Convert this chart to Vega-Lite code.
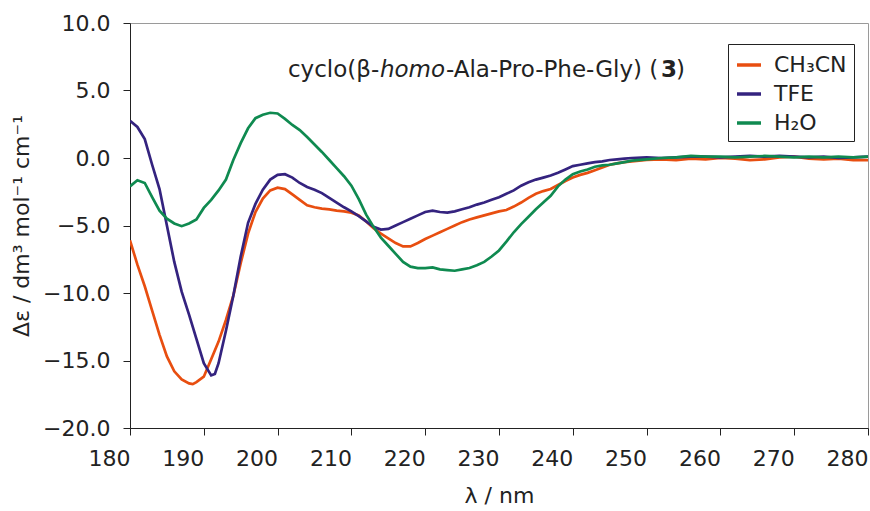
{
  "$schema": "https://vega.github.io/schema/vega-lite/v6.json",
  "width": 738,
  "height": 405,
  "autosize": {"type": "none"},
  "padding": {"left": 130, "top": 23, "right": 2, "bottom": 83},
  "background": "white",
  "config": {
    "view": {"stroke": "#9a9a9a", "strokeWidth": 1},
    "font": "DejaVu Sans",
    "axis": {"domainColor": "#222", "tickColor": "#222", "labelColor": "#222", "titleColor": "#222", "labelFont": "DejaVu Sans", "titleFont": "DejaVu Sans", "titleFontWeight": "normal", "grid": false}
  },
  "datasets": {
    "cd": [
      {"nm":180,"de":-6.1,"s":"CH₃CN"},{"nm":181,"de":-7.9,"s":"CH₃CN"},{"nm":182,"de":-9.5,"s":"CH₃CN"},{"nm":183,"de":-11.3,"s":"CH₃CN"},{"nm":184,"de":-13.1,"s":"CH₃CN"},{"nm":185,"de":-14.7,"s":"CH₃CN"},{"nm":186,"de":-15.8,"s":"CH₃CN"},{"nm":187,"de":-16.4,"s":"CH₃CN"},{"nm":188,"de":-16.7,"s":"CH₃CN"},{"nm":188.5,"de":-16.75,"s":"CH₃CN"},{"nm":189,"de":-16.6,"s":"CH₃CN"},{"nm":190,"de":-16.2,"s":"CH₃CN"},{"nm":191,"de":-14.9,"s":"CH₃CN"},{"nm":192,"de":-13.6,"s":"CH₃CN"},{"nm":193,"de":-12.0,"s":"CH₃CN"},{"nm":194,"de":-10.2,"s":"CH₃CN"},{"nm":195,"de":-7.8,"s":"CH₃CN"},{"nm":196,"de":-5.6,"s":"CH₃CN"},{"nm":197,"de":-4.0,"s":"CH₃CN"},{"nm":198,"de":-3.0,"s":"CH₃CN"},{"nm":199,"de":-2.4,"s":"CH₃CN"},{"nm":200,"de":-2.2,"s":"CH₃CN"},{"nm":201,"de":-2.3,"s":"CH₃CN"},{"nm":202,"de":-2.7,"s":"CH₃CN"},{"nm":203,"de":-3.1,"s":"CH₃CN"},{"nm":204,"de":-3.5,"s":"CH₃CN"},{"nm":205,"de":-3.65,"s":"CH₃CN"},{"nm":206,"de":-3.75,"s":"CH₃CN"},{"nm":207,"de":-3.8,"s":"CH₃CN"},{"nm":208,"de":-3.9,"s":"CH₃CN"},{"nm":209,"de":-3.95,"s":"CH₃CN"},{"nm":210,"de":-4.05,"s":"CH₃CN"},{"nm":211,"de":-4.25,"s":"CH₃CN"},{"nm":212,"de":-4.7,"s":"CH₃CN"},{"nm":213,"de":-5.2,"s":"CH₃CN"},{"nm":214,"de":-5.6,"s":"CH₃CN"},{"nm":215,"de":-5.95,"s":"CH₃CN"},{"nm":216,"de":-6.3,"s":"CH₃CN"},{"nm":217,"de":-6.55,"s":"CH₃CN"},{"nm":218,"de":-6.55,"s":"CH₃CN"},{"nm":219,"de":-6.3,"s":"CH₃CN"},{"nm":220,"de":-6.0,"s":"CH₃CN"},{"nm":221,"de":-5.75,"s":"CH₃CN"},{"nm":222,"de":-5.5,"s":"CH₃CN"},{"nm":223,"de":-5.25,"s":"CH₃CN"},{"nm":224,"de":-5.0,"s":"CH₃CN"},{"nm":225,"de":-4.75,"s":"CH₃CN"},{"nm":226,"de":-4.55,"s":"CH₃CN"},{"nm":227,"de":-4.4,"s":"CH₃CN"},{"nm":228,"de":-4.25,"s":"CH₃CN"},{"nm":229,"de":-4.1,"s":"CH₃CN"},{"nm":230,"de":-3.95,"s":"CH₃CN"},{"nm":231,"de":-3.85,"s":"CH₃CN"},{"nm":232,"de":-3.6,"s":"CH₃CN"},{"nm":233,"de":-3.3,"s":"CH₃CN"},{"nm":234,"de":-2.95,"s":"CH₃CN"},{"nm":235,"de":-2.65,"s":"CH₃CN"},{"nm":236,"de":-2.45,"s":"CH₃CN"},{"nm":237,"de":-2.3,"s":"CH₃CN"},{"nm":238,"de":-2.0,"s":"CH₃CN"},{"nm":239,"de":-1.7,"s":"CH₃CN"},{"nm":240,"de":-1.45,"s":"CH₃CN"},{"nm":241,"de":-1.25,"s":"CH₃CN"},{"nm":242,"de":-1.1,"s":"CH₃CN"},{"nm":243,"de":-0.9,"s":"CH₃CN"},{"nm":244,"de":-0.7,"s":"CH₃CN"},{"nm":245,"de":-0.5,"s":"CH₃CN"},{"nm":246,"de":-0.4,"s":"CH₃CN"},{"nm":247,"de":-0.3,"s":"CH₃CN"},{"nm":248,"de":-0.25,"s":"CH₃CN"},{"nm":250,"de":-0.15,"s":"CH₃CN"},{"nm":252,"de":-0.1,"s":"CH₃CN"},{"nm":254,"de":-0.15,"s":"CH₃CN"},{"nm":256,"de":-0.05,"s":"CH₃CN"},{"nm":258,"de":-0.1,"s":"CH₃CN"},{"nm":260,"de":0.0,"s":"CH₃CN"},{"nm":262,"de":-0.05,"s":"CH₃CN"},{"nm":264,"de":-0.15,"s":"CH₃CN"},{"nm":266,"de":-0.1,"s":"CH₃CN"},{"nm":268,"de":0.05,"s":"CH₃CN"},{"nm":270,"de":0.1,"s":"CH₃CN"},{"nm":272,"de":-0.05,"s":"CH₃CN"},{"nm":274,"de":-0.1,"s":"CH₃CN"},{"nm":276,"de":-0.05,"s":"CH₃CN"},{"nm":278,"de":-0.15,"s":"CH₃CN"},{"nm":280,"de":-0.15,"s":"CH₃CN"},
      {"nm":180,"de":2.75,"s":"TFE"},{"nm":181,"de":2.3,"s":"TFE"},{"nm":182,"de":1.4,"s":"TFE"},{"nm":183,"de":-0.5,"s":"TFE"},{"nm":184,"de":-2.3,"s":"TFE"},{"nm":185,"de":-5.0,"s":"TFE"},{"nm":186,"de":-7.7,"s":"TFE"},{"nm":187,"de":-9.9,"s":"TFE"},{"nm":188,"de":-11.6,"s":"TFE"},{"nm":189,"de":-13.4,"s":"TFE"},{"nm":190,"de":-15.2,"s":"TFE"},{"nm":191,"de":-16.1,"s":"TFE"},{"nm":191.5,"de":-16.0,"s":"TFE"},{"nm":192,"de":-15.2,"s":"TFE"},{"nm":193,"de":-12.8,"s":"TFE"},{"nm":194,"de":-10.2,"s":"TFE"},{"nm":195,"de":-7.3,"s":"TFE"},{"nm":196,"de":-4.8,"s":"TFE"},{"nm":197,"de":-3.4,"s":"TFE"},{"nm":198,"de":-2.35,"s":"TFE"},{"nm":199,"de":-1.6,"s":"TFE"},{"nm":200,"de":-1.25,"s":"TFE"},{"nm":201,"de":-1.2,"s":"TFE"},{"nm":202,"de":-1.45,"s":"TFE"},{"nm":203,"de":-1.85,"s":"TFE"},{"nm":204,"de":-2.15,"s":"TFE"},{"nm":205,"de":-2.35,"s":"TFE"},{"nm":206,"de":-2.6,"s":"TFE"},{"nm":207,"de":-2.95,"s":"TFE"},{"nm":208,"de":-3.3,"s":"TFE"},{"nm":209,"de":-3.65,"s":"TFE"},{"nm":210,"de":-3.95,"s":"TFE"},{"nm":211,"de":-4.3,"s":"TFE"},{"nm":212,"de":-4.7,"s":"TFE"},{"nm":213,"de":-5.1,"s":"TFE"},{"nm":214,"de":-5.3,"s":"TFE"},{"nm":215,"de":-5.25,"s":"TFE"},{"nm":216,"de":-5.0,"s":"TFE"},{"nm":217,"de":-4.75,"s":"TFE"},{"nm":218,"de":-4.5,"s":"TFE"},{"nm":219,"de":-4.25,"s":"TFE"},{"nm":220,"de":-4.0,"s":"TFE"},{"nm":221,"de":-3.9,"s":"TFE"},{"nm":222,"de":-4.0,"s":"TFE"},{"nm":223,"de":-4.05,"s":"TFE"},{"nm":224,"de":-3.95,"s":"TFE"},{"nm":225,"de":-3.8,"s":"TFE"},{"nm":226,"de":-3.65,"s":"TFE"},{"nm":227,"de":-3.45,"s":"TFE"},{"nm":228,"de":-3.3,"s":"TFE"},{"nm":229,"de":-3.1,"s":"TFE"},{"nm":230,"de":-2.9,"s":"TFE"},{"nm":231,"de":-2.65,"s":"TFE"},{"nm":232,"de":-2.4,"s":"TFE"},{"nm":233,"de":-2.05,"s":"TFE"},{"nm":234,"de":-1.8,"s":"TFE"},{"nm":235,"de":-1.6,"s":"TFE"},{"nm":236,"de":-1.45,"s":"TFE"},{"nm":237,"de":-1.3,"s":"TFE"},{"nm":238,"de":-1.1,"s":"TFE"},{"nm":239,"de":-0.85,"s":"TFE"},{"nm":240,"de":-0.6,"s":"TFE"},{"nm":241,"de":-0.5,"s":"TFE"},{"nm":242,"de":-0.4,"s":"TFE"},{"nm":243,"de":-0.3,"s":"TFE"},{"nm":244,"de":-0.25,"s":"TFE"},{"nm":245,"de":-0.15,"s":"TFE"},{"nm":246,"de":-0.1,"s":"TFE"},{"nm":247,"de":-0.05,"s":"TFE"},{"nm":248,"de":0.0,"s":"TFE"},{"nm":250,"de":0.05,"s":"TFE"},{"nm":252,"de":0.0,"s":"TFE"},{"nm":254,"de":0.05,"s":"TFE"},{"nm":256,"de":0.1,"s":"TFE"},{"nm":258,"de":0.1,"s":"TFE"},{"nm":260,"de":0.05,"s":"TFE"},{"nm":262,"de":0.1,"s":"TFE"},{"nm":264,"de":0.15,"s":"TFE"},{"nm":266,"de":0.1,"s":"TFE"},{"nm":268,"de":0.15,"s":"TFE"},{"nm":270,"de":0.1,"s":"TFE"},{"nm":272,"de":0.05,"s":"TFE"},{"nm":274,"de":0.1,"s":"TFE"},{"nm":276,"de":0.0,"s":"TFE"},{"nm":278,"de":0.05,"s":"TFE"},{"nm":280,"de":0.1,"s":"TFE"},
      {"nm":180,"de":-2.1,"s":"H₂O"},{"nm":181,"de":-1.65,"s":"H₂O"},{"nm":182,"de":-1.85,"s":"H₂O"},{"nm":183,"de":-2.9,"s":"H₂O"},{"nm":184,"de":-3.9,"s":"H₂O"},{"nm":185,"de":-4.5,"s":"H₂O"},{"nm":186,"de":-4.85,"s":"H₂O"},{"nm":187,"de":-5.05,"s":"H₂O"},{"nm":188,"de":-4.85,"s":"H₂O"},{"nm":189,"de":-4.55,"s":"H₂O"},{"nm":190,"de":-3.7,"s":"H₂O"},{"nm":191,"de":-3.1,"s":"H₂O"},{"nm":192,"de":-2.4,"s":"H₂O"},{"nm":193,"de":-1.6,"s":"H₂O"},{"nm":194,"de":-0.15,"s":"H₂O"},{"nm":195,"de":1.1,"s":"H₂O"},{"nm":196,"de":2.2,"s":"H₂O"},{"nm":197,"de":2.95,"s":"H₂O"},{"nm":198,"de":3.2,"s":"H₂O"},{"nm":199,"de":3.35,"s":"H₂O"},{"nm":200,"de":3.3,"s":"H₂O"},{"nm":201,"de":2.9,"s":"H₂O"},{"nm":202,"de":2.45,"s":"H₂O"},{"nm":203,"de":2.07,"s":"H₂O"},{"nm":204,"de":1.55,"s":"H₂O"},{"nm":205,"de":1.0,"s":"H₂O"},{"nm":206,"de":0.45,"s":"H₂O"},{"nm":207,"de":-0.15,"s":"H₂O"},{"nm":208,"de":-0.75,"s":"H₂O"},{"nm":209,"de":-1.35,"s":"H₂O"},{"nm":210,"de":-2.05,"s":"H₂O"},{"nm":211,"de":-3.05,"s":"H₂O"},{"nm":212,"de":-4.2,"s":"H₂O"},{"nm":213,"de":-5.1,"s":"H₂O"},{"nm":214,"de":-5.9,"s":"H₂O"},{"nm":215,"de":-6.5,"s":"H₂O"},{"nm":216,"de":-7.1,"s":"H₂O"},{"nm":217,"de":-7.7,"s":"H₂O"},{"nm":218,"de":-8.05,"s":"H₂O"},{"nm":219,"de":-8.15,"s":"H₂O"},{"nm":220,"de":-8.15,"s":"H₂O"},{"nm":221,"de":-8.1,"s":"H₂O"},{"nm":222,"de":-8.25,"s":"H₂O"},{"nm":223,"de":-8.3,"s":"H₂O"},{"nm":224,"de":-8.35,"s":"H₂O"},{"nm":225,"de":-8.25,"s":"H₂O"},{"nm":226,"de":-8.15,"s":"H₂O"},{"nm":227,"de":-7.95,"s":"H₂O"},{"nm":228,"de":-7.7,"s":"H₂O"},{"nm":229,"de":-7.3,"s":"H₂O"},{"nm":230,"de":-6.85,"s":"H₂O"},{"nm":231,"de":-6.2,"s":"H₂O"},{"nm":232,"de":-5.5,"s":"H₂O"},{"nm":233,"de":-4.9,"s":"H₂O"},{"nm":234,"de":-4.35,"s":"H₂O"},{"nm":235,"de":-3.8,"s":"H₂O"},{"nm":236,"de":-3.3,"s":"H₂O"},{"nm":237,"de":-2.8,"s":"H₂O"},{"nm":238,"de":-2.1,"s":"H₂O"},{"nm":239,"de":-1.6,"s":"H₂O"},{"nm":240,"de":-1.2,"s":"H₂O"},{"nm":241,"de":-1.0,"s":"H₂O"},{"nm":242,"de":-0.85,"s":"H₂O"},{"nm":243,"de":-0.65,"s":"H₂O"},{"nm":244,"de":-0.55,"s":"H₂O"},{"nm":245,"de":-0.5,"s":"H₂O"},{"nm":246,"de":-0.4,"s":"H₂O"},{"nm":247,"de":-0.3,"s":"H₂O"},{"nm":248,"de":-0.2,"s":"H₂O"},{"nm":250,"de":-0.1,"s":"H₂O"},{"nm":252,"de":0.0,"s":"H₂O"},{"nm":254,"de":0.05,"s":"H₂O"},{"nm":256,"de":0.15,"s":"H₂O"},{"nm":258,"de":0.1,"s":"H₂O"},{"nm":260,"de":0.1,"s":"H₂O"},{"nm":262,"de":0.05,"s":"H₂O"},{"nm":264,"de":0.1,"s":"H₂O"},{"nm":266,"de":0.15,"s":"H₂O"},{"nm":268,"de":0.1,"s":"H₂O"},{"nm":270,"de":0.05,"s":"H₂O"},{"nm":272,"de":0.1,"s":"H₂O"},{"nm":274,"de":0.05,"s":"H₂O"},{"nm":276,"de":0.1,"s":"H₂O"},{"nm":278,"de":0.05,"s":"H₂O"},{"nm":280,"de":0.1,"s":"H₂O"}
    ]
  },
  "layer": [
    {
      "data": {"name": "cd"},
      "mark": {"type": "line", "strokeWidth": 2.7, "clip": true},
      "encoding": {
        "x": {"field": "nm", "type": "quantitative", "scale": {"domain": [180, 280], "nice": false},
          "axis": {"title": "λ / nm", "values": [180,190,200,210,220,230,240,250,260,270,280], "format": "d", "labelFontSize": 22, "titleFontSize": 22, "tickSize": 7, "labelPadding": 13, "titlePadding": 16, "labelAlign": "right", "labelDx": -1, "labelFlush": false, "labelOverlap": false}},
        "y": {"field": "de", "type": "quantitative", "scale": {"domain": [-20, 10], "nice": false, "zero": false},
          "axis": {"title": "Δε / dm³ mol⁻¹ cm⁻¹", "values": [-20,-15,-10,-5,0,5,10], "format": ".1f", "labelFontSize": 22, "titleFontSize": 22, "tickSize": 7, "labelPadding": 13, "titlePadding": 9, "labelFlush": false, "labelOverlap": false}},
        "color": {"field": "s", "type": "nominal",
          "scale": {"domain": ["CH₃CN", "TFE", "H₂O"], "range": ["#E84E10", "#34237F", "#0F8A50"]},
          "legend": {"title": null, "orient": "none", "legendX": 598, "legendY": 21, "strokeColor": "#222", "fillColor": "white", "padding": 7, "symbolType": "stroke", "symbolSize": 576, "symbolStrokeWidth": 3.5, "labelFontSize": 22, "labelFont": "DejaVu Sans", "labelColor": "#222", "labelOffset": 11, "rowPadding": 4}}
      }
    },
    {
      "data": {"values": [{}]},
      "mark": {"type": "text", "text": "cyclo(β-", "align": "left", "baseline": "middle", "fontSize": 23, "font": "DejaVu Sans", "color": "#222"},
      "encoding": {"x": {"datum": 201.4}, "y": {"datum": 6.5}}
    },
    {
      "data": {"values": [{}]},
      "mark": {"type": "text", "text": "homo", "align": "left", "baseline": "middle", "fontSize": 23, "font": "DejaVu Sans", "fontStyle": "italic", "color": "#222", "dx": 92},
      "encoding": {"x": {"datum": 201.4}, "y": {"datum": 6.5}}
    },
    {
      "data": {"values": [{}]},
      "mark": {"type": "text", "text": "-Ala-Pro-Phe-Gly) (", "align": "left", "baseline": "middle", "fontSize": 23, "font": "DejaVu Sans", "color": "#222", "dx": 158},
      "encoding": {"x": {"datum": 201.4}, "y": {"datum": 6.5}}
    },
    {
      "data": {"values": [{}]},
      "mark": {"type": "text", "text": "3", "align": "left", "baseline": "middle", "fontSize": 23, "font": "DejaVu Sans", "fontWeight": "bold", "color": "#222", "dx": 373},
      "encoding": {"x": {"datum": 201.4}, "y": {"datum": 6.5}}
    },
    {
      "data": {"values": [{}]},
      "mark": {"type": "text", "text": ")", "align": "left", "baseline": "middle", "fontSize": 23, "font": "DejaVu Sans", "color": "#222", "dx": 388},
      "encoding": {"x": {"datum": 201.4}, "y": {"datum": 6.5}}
    }
  ]
}
